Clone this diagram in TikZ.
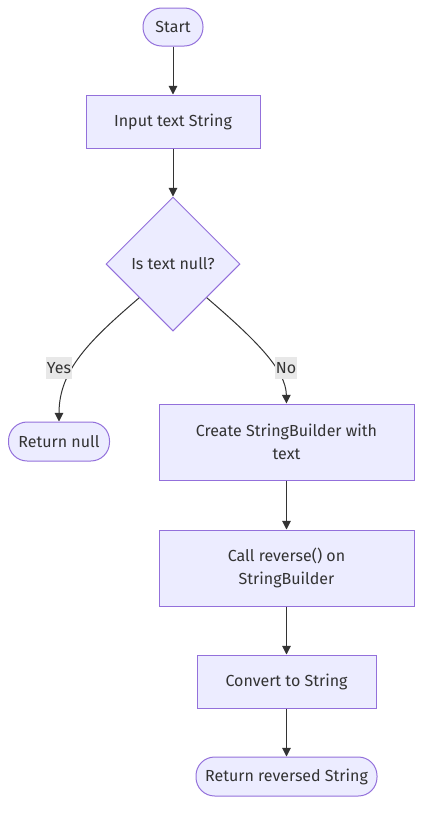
\documentclass[tikz,border=0pt]{standalone}
\usepackage{fontspec}
\setmainfont{Fira Sans}
\usetikzlibrary{arrows.meta,shapes.geometric}
\definecolor{nodefill}{HTML}{ECECFF}
\definecolor{nodeline}{HTML}{9370DB}
\definecolor{edgeline}{HTML}{333333}
\definecolor{labelbg}{HTML}{E8E8E8}
\tikzset{
  base/.style={draw=nodeline, fill=nodefill, line width=0.75pt, text=edgeline, font=\fontsize{12pt}{17.5pt}\selectfont, inner sep=0pt, align=center},
  procbox/.style={base, rectangle},
  termbox/.style={base, rectangle, rounded corners=14pt},
  decbox/.style={base, diamond, aspect=1},
  flow/.style={draw=edgeline, line width=0.75pt, -{Triangle[length=6.5pt,width=6.5pt]}},
  elabel/.style={fill=labelbg, text=edgeline, font=\fontsize{12pt}{14pt}\selectfont, inner sep=1pt, minimum height=16.5pt}
}
\begin{document}
\begin{tikzpicture}[x=0.75pt,y=-0.75pt]
\useasboundingbox (0,0) rectangle (430,819);
\node[termbox, minimum width=45pt, minimum height=28.5pt] (start) at (173,27) {Start};
\node[procbox, minimum width=130.5pt, minimum height=39.75pt] (input) at (173,121.5) {Input text String};
\node[decbox, minimum width=100.5pt, minimum height=100.5pt] (dec) at (173,264) {Is text null?};
\node[termbox, minimum width=75.75pt, minimum height=29.25pt] (retnull) at (59,441.5) {Return null};
\node[procbox, minimum width=191.25pt, minimum height=57pt] (create) at (286.5,442) {Create StringBuilder with\\text};
\node[procbox, minimum width=191.25pt, minimum height=57pt] (rev) at (286.5,568) {Call reverse() on\\StringBuilder};
\node[procbox, minimum width=134.25pt, minimum height=39.75pt] (conv) at (286.5,681.5) {Convert to String};
\node[termbox, minimum width=135.75pt, minimum height=29.25pt] (retrev) at (286.5,776.5) {Return reversed String};

\draw[flow] (start) -- (input);
\draw[flow] (input) -- (dec);
\draw[flow] (dec.south west) .. controls (90,340) and (59,370) .. (retnull.north);
\draw[flow] (dec.south east) .. controls (256,340) and (286,370) .. (create.north);
\draw[flow] (create) -- (rev);
\draw[flow] (rev) -- (conv);
\draw[flow] (conv) -- (retrev);
\node[elabel] (yes) at (59,368) {Yes};
\node[elabel] (no) at (286,368) {No};
\end{tikzpicture}
\end{document}
